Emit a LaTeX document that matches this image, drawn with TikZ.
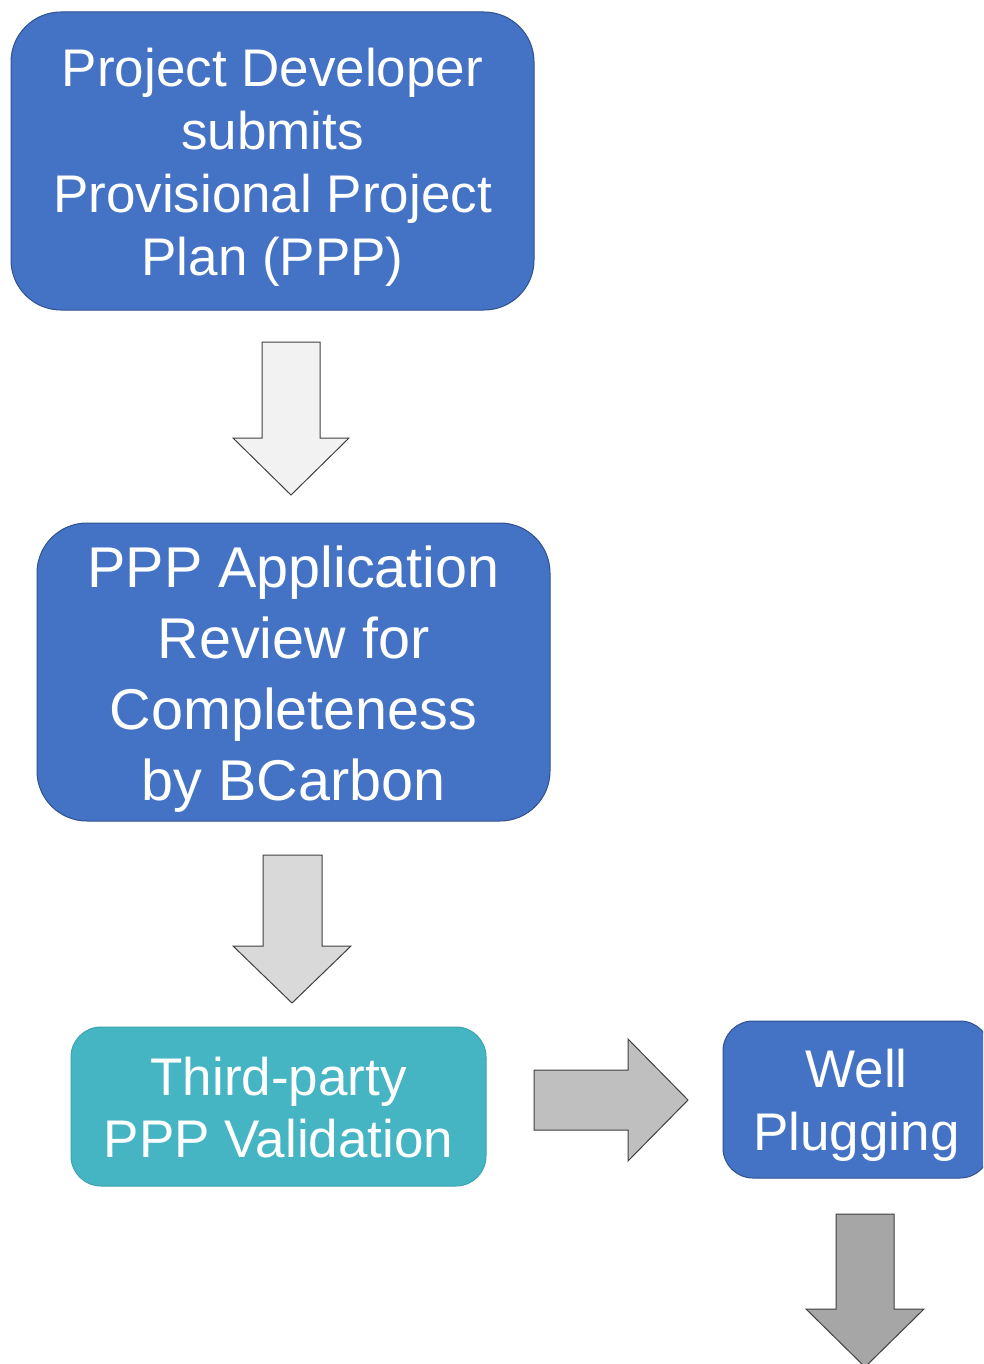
\documentclass[tikz,border=0pt]{standalone}
\usepackage{fontspec}
\setmainfont{Liberation Sans}
\definecolor{boxblue}{HTML}{4472C4}
\definecolor{boxblueline}{HTML}{2F528F}
\definecolor{boxteal}{HTML}{45B5C4}
\definecolor{boxtealline}{HTML}{3FA3B0}
\definecolor{arrowline}{HTML}{404040}
\definecolor{shadeA}{HTML}{F2F2F2}
\definecolor{shadeB}{HTML}{D9D9D9}
\definecolor{shadeC}{HTML}{BFBFBF}
\definecolor{shadeD}{HTML}{A6A6A6}
\tikzset{
  stepbox/.style={rounded corners=#1, draw=boxblueline, fill=boxblue, line width=1pt,
    inner sep=0pt},
  tealbox/.style={rounded corners=#1, draw=boxtealline, fill=boxteal, line width=1pt,
    inner sep=0pt},
  boxtext/.style={text=white, align=center, inner sep=0pt},
  blockarrow/.style={draw=arrowline, line width=1pt, fill=#1, line join=miter}
}
\begin{document}
\begin{tikzpicture}[x=1pt,y=-1pt]
\useasboundingbox (0,0) rectangle (983,1364);
\clip (0,0) rectangle (983,1364);
\fill[white] (0,0) rectangle (983,1364);

% process boxes
\node[stepbox=50pt, minimum width=523pt, minimum height=298pt] (submit) at (272.5,161) {};
\node[stepbox=50pt, minimum width=513pt, minimum height=298pt] (review) at (293.5,672) {};
\node[tealbox=30pt, minimum width=415pt, minimum height=159pt] (valid) at (278.5,1106.5) {};
\node[stepbox=30pt, minimum width=267pt, minimum height=157pt] (plug) at (856.5,1099.5) {};

% box labels
\node[boxtext, font=\fontsize{53}{63}\selectfont] (submittext)
  at ([yshift=-6pt]submit.center)
  {Project Developer\\submits\\Provisional Project\\Plan (PPP)};
\node[boxtext, font=\fontsize{57.5}{71}\selectfont] (reviewtext)
  at ([yshift=-7pt]review.center)
  {PPP Application\\Review for\\Completeness\\by BCarbon};
\node[boxtext, font=\fontsize{53}{62}\selectfont] (validtext)
  at ([yshift=-1.5pt]valid.center)
  {Third-party\\PPP Validation};
\node[boxtext, font=\fontsize{53}{63}\selectfont] (plugtext)
  at ([yshift=-6pt]plug.center)
  {Well\\Plugging};

% block arrows between the steps
\draw[blockarrow=shadeA] (262,342) -- (320,342) -- (320,438) -- (349,438)
  -- (291,495) -- (233,438) -- (262,438) -- cycle;
\draw[blockarrow=shadeB] (263,855) -- (322,855) -- (322,946) -- (351,946)
  -- (292,1003) -- (233,946) -- (263,946) -- cycle;
\draw[blockarrow=shadeC] (534,1070) -- (628,1070) -- (628,1039) -- (688,1100)
  -- (628,1161) -- (628,1130) -- (534,1130) -- cycle;
\draw[blockarrow=shadeD] (836,1214) -- (894,1214) -- (894,1309) -- (924,1309)
  -- (865,1367) -- (806,1309) -- (836,1309) -- cycle;
\end{tikzpicture}
\end{document}
